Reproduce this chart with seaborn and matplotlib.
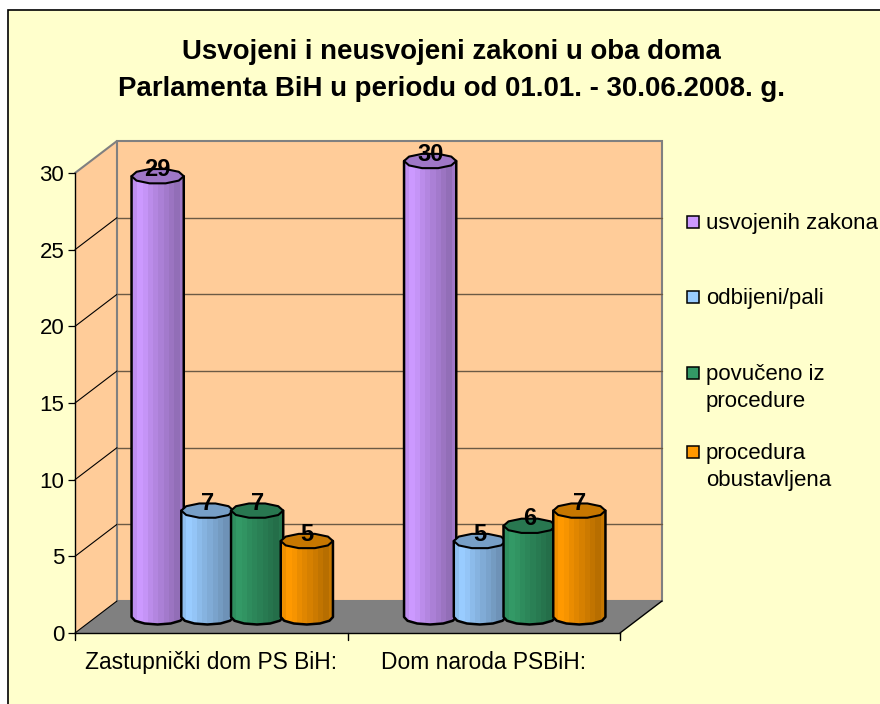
import numpy as np
import pandas as pd
import matplotlib
matplotlib.use("Agg")
import matplotlib.pyplot as plt
from matplotlib.patches import Polygon, Rectangle
import seaborn as sns

categories = ['Zastupnički dom PS BiH:', 'Dom naroda PSBiH:']
series = ['usvojenih zakona', 'odbijeni/pali', 'povučeno iz\nprocedure', 'procedura\nobustavljena']
usvojeni = [29, 30]
odbijeni = [7, 5]
povuceno = [7, 6]
obustavljena = [5, 7]
colors = ['#CC99FF', '#99CCFF', '#339966', '#FF9900']
y_ticks = [0, 5, 10, 15, 20, 25, 30]
title = 'Usvojeni i neusvojeni zakoni u oba doma\nParlamenta BiH u periodu od 01.01. - 30.06.2008. g.'

sns.set_style('white')
plt.rcParams['font.family'] = ['Liberation Sans', 'DejaVu Sans']
plt.rcParams['text.color'] = 'black'
plt.rcParams['xtick.labelcolor'] = 'black'
plt.rcParams['ytick.labelcolor'] = 'black'

W, H = 880, 704
fig = plt.figure(figsize=(8.8, 7.04), dpi=100, facecolor='white')


def axes_px(left, top, right, bottom):
    return fig.add_axes([left / W, 1 - bottom / H, (right - left) / W, (bottom - top) / H])


# background layer in pixel coordinates: chart area, walls, floor
bg = axes_px(0, 0, W, H)
bg.set_xlim(0, W)
bg.set_ylim(H, 0)
bg.axis('off')
bg.add_patch(Rectangle((7.5, 9.5), W, H, fc='#FFFFCC', ec='black', lw=1.2))

x0, x1, y0, y30 = 75, 620, 633, 173
dx, dy = 42, -32
gray = '#808080'
bg.add_patch(Polygon([(x0, y30), (x0 + dx, y30 + dy), (x0 + dx, y0 + dy), (x0, y0)], fc='#FFCC99', ec='none'))
bg.add_patch(Rectangle((x0 + dx, y30 + dy), x1 - x0, y0 - y30, fc='#FFCC99', ec=gray, lw=1.5))
bg.add_patch(Polygon([(x0, y0), (x1, y0), (x1 + dx, y0 + dy), (x0 + dx, y0 + dy)], fc=gray, ec='none'))
bg.plot([x0, x0 + dx], [y30, y30 + dy], color=gray, lw=1.5)
bg.plot([x1, x1 + dx], [y0, y0 + dy], color='black', lw=1)

for t in y_ticks[1:-1]:
    yy = y0 + (y30 - y0) * t / 30
    bg.plot([x0, x0 + dx], [yy, yy + dy], color='black', lw=0.8)
    bg.plot([x0 + dx, x1 + dx], [yy + dy, yy + dy], color='#6b5a45', lw=1)
bg.plot([x0, x0 + dx], [y0, y0 + dy], color='black', lw=0.8)

# legend, placed by hand like the Excel one
legend_y = [221.5, 297, 373, 452]
for s, c, yy in zip(series, colors, legend_y):
    bg.add_patch(Rectangle((687, yy - 6), 12, 12, fc=c, ec='black', lw=1.1))
    bg.text(706, yy - 9, s, fontsize=16, va='top', ha='left', color='black', linespacing=1.36)

fig.text(451 / W, 1 - 70.5 / H, title, fontsize=19.9, fontweight='bold', ha='center', va='center',
         linespacing=1.58, color='black')

# front axes carry the tick labels
front = axes_px(x0, y30, x1, y0)
front.patch.set_alpha(0)
front.set_xlim(-0.5, 1.5)
front.set_ylim(0, 30)
front.set_yticks(y_ticks)
front.set_xticks([0, 1])
front.set_xticklabels(categories)
front.tick_params(axis='y', labelsize=16, length=4.7, width=0.9, color='black', left=True, pad=3)
front.tick_params(axis='x', labelsize=16.4, length=0, pad=13)
for b in [-0.5, 0.5, 1.5]:
    front.plot([b, b], [0, -7 * 30 / 460], color='black', lw=1, clip_on=False)
sns.despine(ax=front, top=True, right=True)
for sp in ['left', 'bottom']:
    front.spines[sp].set_color('black')
    front.spines[sp].set_linewidth(1)

# bars stand in the middle of the floor depth
df = pd.DataFrame({
    'dom': categories * 4,
    'vrsta': [s for s in series for _ in categories],
    'zakoni': usvojeni + odbijeni + povuceno + obustavljena,
})
scale = 15.2
base_y, base_x = 617, 96
ax = axes_px(base_x, base_y - 32 * scale, base_x + (x1 - x0), base_y + 2 * scale)
ax.patch.set_alpha(0)
sns.barplot(data=df, x='dom', y='zakoni', hue='vrsta', hue_order=series, palette=colors,
            width=0.73, legend=False, ax=ax)
ax.set_xlim(-0.5, 1.5)
ax.set_ylim(-2, 32)
ax.axis('off')

ry = 7.5 / scale
shade = np.array([0.94, 1.0, 0.97, 0.92, 0.88, 0.84, 0.8, 0.76, 0.72, 0.78])
z = 3
for cont, c in zip(ax.containers, colors):
    rgb = np.array(matplotlib.colors.to_rgb(c))
    strip = (shade[None, :, None] * rgb[None, None, :])
    for bar in cont:
        w, h = bar.get_width() * 1.05, bar.get_height()
        xc = bar.get_x() + bar.get_width() / 2
        xl, xr = xc - w / 2, xc + w / 2
        bar.set_visible(False)
        # coarse polygons keep the lumpy outline of the original cylinders
        th = np.linspace(0, np.pi, 7)
        lower = [(xc + w / 2 * np.cos(a), -ry * np.sin(a)) for a in th]
        body = Polygon([(xl, h), (xr, h)] + lower, closed=True, fc='none', ec='black', lw=1.8,
                       zorder=z + 1, joinstyle='round')
        im = ax.imshow(strip, extent=(xl, xr, -ry, h), aspect='auto', zorder=z, interpolation='nearest')
        ax.add_patch(body)
        im.set_clip_path(body)
        th2 = np.linspace(0, 2 * np.pi, 11)[:-1]
        top = [(xc + w / 2 * np.cos(a), h + ry * np.sin(a)) for a in th2]
        ax.add_patch(Polygon(top, closed=True, fc=rgb * 0.78, ec='black', lw=1.5, zorder=z + 2, joinstyle='round'))
        ax.text(xc, h + 0.45, f'{h:.0f}', fontsize=17, fontweight='bold', ha='center', va='center', zorder=50)
        z += 3

fig.savefig('out.png', dpi=100, facecolor=fig.get_facecolor())
